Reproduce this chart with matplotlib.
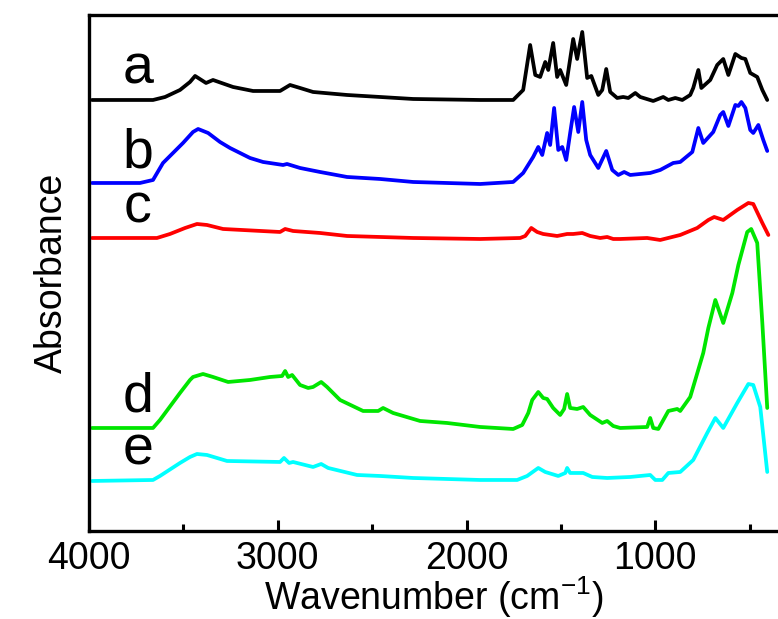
import numpy as np
import matplotlib
matplotlib.use('Agg')
import matplotlib.pyplot as plt
from matplotlib.ticker import MultipleLocator, NullLocator

plt.rcParams['font.family'] = ['Liberation Sans', 'DejaVu Sans']
plt.rcParams['mathtext.fontset'] = 'custom'
plt.rcParams['mathtext.rm'] = 'Liberation Sans'
plt.rcParams['mathtext.it'] = 'Liberation Sans:italic'

# FTIR spectra, absorbance in arbitrary (offset) units
wn_a = [3984, 3661, 3597, 3518, 3465, 3438, 3380, 3343, 3237, 3131, 2988, 2935, 2882, 2813,
        2633, 2283, 1928, 1753, 1700, 1663, 1636, 1610, 1583, 1567, 1541, 1520, 1504, 1472,
        1435, 1414, 1387, 1361, 1339, 1302, 1281, 1260, 1239, 1202, 1170, 1143, 1106, 1080,
        1011, 958, 931, 894, 857, 815, 799, 772, 756, 709, 672, 640, 613, 576, 544, 523, 497,
        460, 433, 407]
abs_a = [4.31, 4.31, 4.34, 4.41, 4.49, 4.55, 4.48, 4.51, 4.44, 4.40, 4.40, 4.46, 4.43, 4.39,
         4.36, 4.32, 4.31, 4.31, 4.41, 4.86, 4.56, 4.54, 4.69, 4.61, 4.88, 4.54, 4.61, 4.46,
         4.92, 4.72, 4.99, 4.53, 4.55, 4.36, 4.41, 4.62, 4.39, 4.33, 4.34, 4.33, 4.38, 4.34,
         4.30, 4.34, 4.31, 4.33, 4.31, 4.36, 4.43, 4.61, 4.43, 4.51, 4.66, 4.72, 4.56, 4.77,
         4.73, 4.72, 4.58, 4.54, 4.41, 4.31]

wn_b = [3984, 3730, 3661, 3608, 3555, 3502, 3449, 3422, 3369, 3306, 3253, 3200, 3147, 3078,
        2972, 2951, 2882, 2776, 2633, 2458, 2283, 1928, 1753, 1700, 1647, 1620, 1599, 1573,
        1557, 1536, 1514, 1493, 1472, 1451, 1430, 1408, 1387, 1366, 1345, 1302, 1260, 1228,
        1196, 1165, 1133, 1027, 974, 905, 868, 804, 772, 746, 693, 656, 640, 613, 576, 560,
        544, 523, 497, 481, 454, 428, 407]
abs_b = [3.48, 3.48, 3.51, 3.68, 3.78, 3.88, 3.99, 4.02, 3.98, 3.89, 3.83, 3.78, 3.73, 3.69,
         3.66, 3.67, 3.63, 3.59, 3.54, 3.52, 3.49, 3.47, 3.49, 3.58, 3.74, 3.84, 3.76, 3.98,
         3.86, 4.23, 3.81, 3.84, 3.71, 3.98, 4.24, 3.99, 4.29, 3.91, 3.76, 3.63, 3.80, 3.61,
         3.56, 3.59, 3.56, 3.58, 3.61, 3.68, 3.69, 3.79, 4.03, 3.88, 3.99, 4.16, 4.19, 4.05,
         4.26, 4.25, 4.29, 4.23, 4.01, 3.98, 4.06, 3.91, 3.80]

wn_c = [3984, 3640, 3571, 3491, 3428, 3375, 3290, 2988, 2961, 2919, 2776, 2633, 2283, 1928,
        1716, 1689, 1657, 1626, 1594, 1520, 1467, 1435, 1387, 1345, 1292, 1255, 1223, 1186,
        1043, 974, 868, 778, 719, 688, 640, 566, 507, 481, 433, 401]
abs_c = [2.93, 2.93, 2.97, 3.03, 3.07, 3.06, 3.02, 2.99, 3.02, 3.00, 2.98, 2.95, 2.93, 2.92,
         2.93, 2.95, 3.03, 2.99, 2.97, 2.95, 2.97, 2.97, 2.98, 2.95, 2.93, 2.94, 2.92, 2.92,
         2.93, 2.91, 2.96, 3.03, 3.11, 3.14, 3.11, 3.21, 3.28, 3.27, 3.08, 2.96]

wn_d = [3984, 3661, 3624, 3518, 3465, 3449, 3396, 3343, 3263, 3147, 3041, 2977, 2961, 2945,
        2924, 2882, 2839, 2813, 2770, 2739, 2670, 2548, 2468, 2442, 2389, 2246, 2103, 1928,
        1753, 1705, 1673, 1652, 1620, 1594, 1573, 1541, 1504, 1483, 1467, 1451, 1414, 1382,
        1345, 1281, 1255, 1223, 1186, 1043, 1027, 1011, 984, 931, 884, 868, 815, 746, 719,
        682, 640, 592, 560, 513, 492, 460, 433, 407]
abs_d = [1.03, 1.03, 1.11, 1.38, 1.51, 1.54, 1.57, 1.54, 1.49, 1.51, 1.54, 1.55, 1.60, 1.54,
         1.56, 1.46, 1.43, 1.44, 1.49, 1.44, 1.31, 1.20, 1.20, 1.23, 1.18, 1.10, 1.08, 1.04,
         1.02, 1.06, 1.18, 1.31, 1.39, 1.33, 1.32, 1.23, 1.16, 1.22, 1.37, 1.23, 1.22, 1.24,
         1.16, 1.08, 1.10, 1.05, 1.03, 1.04, 1.13, 1.03, 1.02, 1.20, 1.22, 1.20, 1.34, 1.78,
         2.03, 2.31, 2.08, 2.38, 2.66, 2.99, 3.02, 2.88, 2.08, 1.23]

wn_e = [3984, 3661, 3624, 3518, 3465, 3428, 3375, 3269, 2988, 2967, 2940, 2919, 2813, 2770,
        2733, 2580, 2458, 2283, 1928, 1732, 1679, 1620, 1583, 1514, 1477, 1467, 1451, 1382,
        1334, 1255, 1133, 1027, 1000, 963, 931, 868, 799, 725, 682, 640, 566, 507, 481, 444, 407]
abs_e = [0.50, 0.51, 0.55, 0.68, 0.74, 0.77, 0.76, 0.70, 0.69, 0.73, 0.68, 0.69, 0.64, 0.67,
         0.63, 0.56, 0.55, 0.53, 0.51, 0.51, 0.55, 0.63, 0.59, 0.55, 0.58, 0.63, 0.58, 0.58,
         0.54, 0.53, 0.54, 0.56, 0.51, 0.51, 0.58, 0.59, 0.71, 0.98, 1.13, 1.03, 1.28, 1.47,
         1.46, 1.24, 0.59]

labels = ['a', 'b', 'c', 'd', 'e']
label_y = [4.47, 3.63, 3.08, 1.19, 0.66]
colors = ['black', 'blue', 'red', '#00e600', 'cyan']


def main():
    fig = plt.figure(figsize=(7.78, 6.19), dpi=100)
    ax = fig.add_axes([0.1144, 0.1422, 1 - 0.1144, 0.8336])

    spectra = [(wn_a, abs_a), (wn_b, abs_b), (wn_c, abs_c), (wn_d, abs_d), (wn_e, abs_e)]
    for (wn, ab), col in zip(spectra, colors):
        ax.plot(wn, ab, color=col, lw=2.7, solid_joinstyle='round', solid_capstyle='round')

    for lab, ly in zip(labels, label_y):
        ax.text(3741, ly, lab, fontsize=40, ha='center', va='baseline')

    ax.set_xlim(4000, 350)
    ax.set_ylim(0, 5.16)
    ax.xaxis.set_major_locator(MultipleLocator(1000))
    ax.xaxis.set_minor_locator(MultipleLocator(500))
    ax.yaxis.set_major_locator(NullLocator())
    ax.tick_params(axis='x', which='major', direction='in', length=8, width=2.2,
                   labelsize=27, pad=7)
    ax.tick_params(axis='x', which='minor', direction='in', length=5, width=2.2)
    ax.spines['right'].set_visible(False)
    for s in ['left', 'top', 'bottom']:
        ax.spines[s].set_linewidth(2.4)

    ax.set_xlabel('Wavenumber (cm$^{-1}$)', fontsize=27, labelpad=-2)
    ax.set_ylabel('Absorbance', fontsize=27, labelpad=14)

    fig.savefig('out.png', dpi=100)


if __name__ == "__main__":
    main()
